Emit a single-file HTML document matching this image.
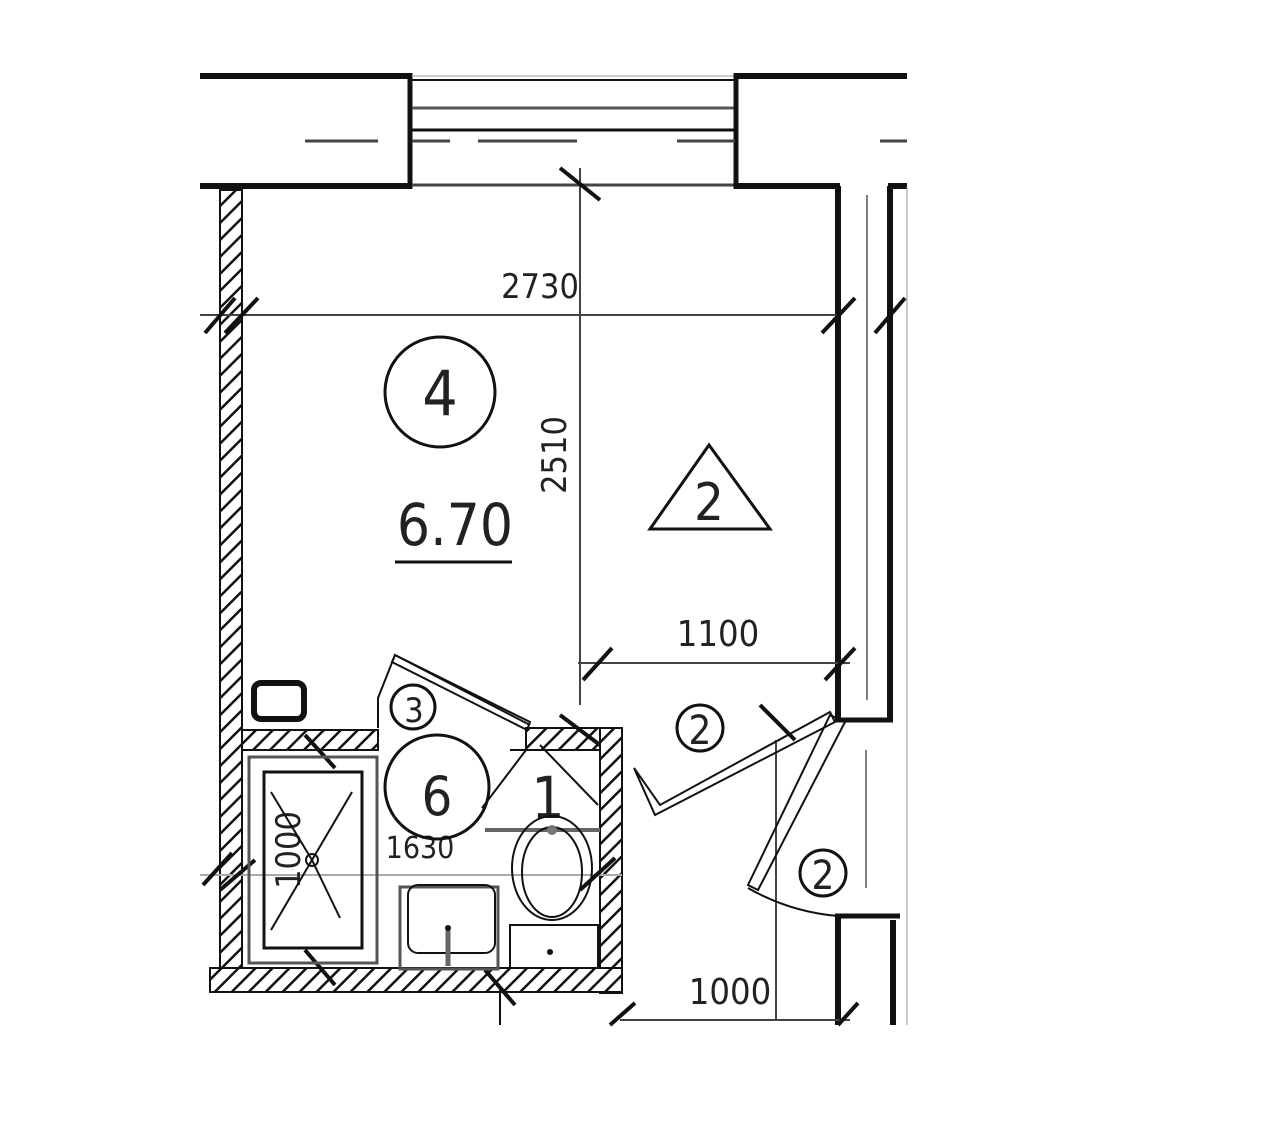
<!DOCTYPE html>
<html><head><meta charset="utf-8"><style>
html,body{margin:0;padding:0;background:#fff;}
svg{display:block;}
text{font-family:"DejaVu Sans Condensed","Liberation Sans",sans-serif;fill:#222;}
</style></head><body>
<svg width="1280" height="1122" viewBox="0 0 1280 1122" xmlns="http://www.w3.org/2000/svg">
<defs>
<pattern id="h" width="12" height="12" patternUnits="userSpaceOnUse" patternTransform="rotate(45)">
<rect width="12" height="12" fill="#fff"/><line x1="0" y1="0" x2="0" y2="12" stroke="#111" stroke-width="5"/>
</pattern>
</defs>
<g stroke="#111" fill="none">
<line x1="200" y1="76" x2="412" y2="76" stroke-width="6"/>
<line x1="200" y1="186" x2="412" y2="186" stroke-width="6"/>
<line x1="410" y1="73" x2="410" y2="189" stroke-width="5"/>
<line x1="412" y1="76" x2="735" y2="76" stroke-width="1.5" stroke="#bbb"/>
<line x1="412" y1="80" x2="735" y2="80" stroke-width="2"/>
<line x1="412" y1="108" x2="735" y2="108" stroke-width="3" stroke="#555"/>
<line x1="412" y1="130" x2="735" y2="130" stroke-width="3"/>
<line x1="412" y1="185" x2="735" y2="185" stroke-width="3" stroke="#444"/>
<line x1="736" y1="73" x2="736" y2="189" stroke-width="5"/>
<line x1="736" y1="76" x2="907" y2="76" stroke-width="6"/>
<line x1="736" y1="186" x2="840" y2="186" stroke-width="6"/>
<line x1="888" y1="186" x2="907" y2="186" stroke-width="6"/>
<g stroke-width="3" stroke="#444">
<line x1="305" y1="141" x2="378" y2="141"/><line x1="412" y1="141" x2="450" y2="141"/>
<line x1="478" y1="141" x2="577" y2="141"/><line x1="677" y1="141" x2="735" y2="141"/>
<line x1="880" y1="141" x2="907" y2="141"/>
</g>
<line x1="838" y1="186" x2="838" y2="720" stroke-width="6"/>
<line x1="890" y1="186" x2="890" y2="722" stroke-width="6"/>
<line x1="835" y1="720" x2="893" y2="720" stroke-width="5"/>
<line x1="867" y1="195" x2="867" y2="700" stroke-width="1.5" stroke="#555"/>
<line x1="907" y1="186" x2="907" y2="1025" stroke-width="1" stroke="#999"/>
<line x1="838" y1="916" x2="838" y2="1025" stroke-width="6"/>
<line x1="835" y1="916" x2="900" y2="916" stroke-width="5"/>
<line x1="893" y1="920" x2="893" y2="1025" stroke-width="6"/>
<line x1="866" y1="750" x2="866" y2="888" stroke-width="1.5" stroke="#555"/>
</g>
<g stroke="#111" stroke-width="2">
<rect x="220" y="190" width="22" height="795" fill="url(#h)"/>
<rect x="242" y="730" width="136" height="20" fill="url(#h)"/>
<rect x="526" y="728" width="75" height="22" fill="url(#h)"/>
<rect x="600" y="728" width="22" height="265" fill="url(#h)"/>
<rect x="210" y="968" width="412" height="24" fill="url(#h)"/>
</g>
<g stroke="#444" stroke-width="2" fill="none">
<line x1="200" y1="315" x2="840" y2="315"/>
<line x1="580" y1="168" x2="580" y2="705"/>
<line x1="578" y1="663" x2="850" y2="663"/>
<line x1="620" y1="1020" x2="850" y2="1020"/>
<line x1="776" y1="740" x2="776" y2="1020"/>
<line x1="500" y1="990" x2="500" y2="1025" stroke="#111"/>
<line x1="200" y1="875" x2="622" y2="875" stroke="#aaa"/>
</g>
<g stroke="#111" stroke-width="4">
<line x1="560" y1="168" x2="600" y2="200"/>
<line x1="205" y1="333" x2="235" y2="298"/><line x1="225" y1="333" x2="258" y2="298"/>
<line x1="822" y1="333" x2="855" y2="298"/><line x1="875" y1="333" x2="905" y2="298"/>
<line x1="583" y1="680" x2="612" y2="648"/><line x1="825" y1="680" x2="855" y2="648"/>
<line x1="560" y1="715" x2="600" y2="745"/>
<line x1="305" y1="735" x2="335" y2="768"/>
<line x1="203" y1="885" x2="232" y2="853"/><line x1="220" y1="890" x2="255" y2="860"/>
<line x1="580" y1="890" x2="615" y2="858"/>
<line x1="305" y1="950" x2="335" y2="985"/><line x1="485" y1="970" x2="515" y2="1005"/>
<line x1="610" y1="1025" x2="635" y2="1003"/><line x1="838" y1="1025" x2="858" y2="1003"/>
<line x1="760" y1="705" x2="795" y2="740"/>
</g>
<text x="540" y="298" font-size="34" text-anchor="middle">2730</text>
<text transform="translate(566,455) rotate(-90)" font-size="34" text-anchor="middle">2510</text>
<text x="718" y="646" font-size="36" text-anchor="middle">1100</text>
<text x="730" y="1004" font-size="36" text-anchor="middle">1000</text>
<text x="420" y="858" font-size="30" text-anchor="middle" fill="#666">1630</text>
<text transform="translate(300,850) rotate(-90)" font-size="34" text-anchor="middle">1000</text>
<g stroke="#111" stroke-width="3" fill="none">
<circle cx="440" cy="392" r="55"/>
<line x1="395" y1="562" x2="512" y2="562"/>
<polygon points="709,445 650,529 770,529"/>
<circle cx="413" cy="707" r="22"/>
<circle cx="437" cy="787" r="52"/>
<circle cx="700" cy="728" r="23"/>
<circle cx="823" cy="873" r="23"/>
<rect x="254" y="683" width="50" height="36" rx="7" stroke-width="6"/>
</g>
<text x="440" y="415" font-size="62" text-anchor="middle">4</text>
<text x="455" y="545" font-size="58" text-anchor="middle">6.70</text>
<text x="709" y="520" font-size="52" text-anchor="middle">2</text>
<text x="414" y="722" font-size="34" text-anchor="middle">3</text>
<text x="437" y="815" font-size="54" text-anchor="middle">6</text>
<text x="548" y="818" font-size="58" text-anchor="middle">1</text>
<text x="700" y="744" font-size="40" text-anchor="middle">2</text>
<text x="823" y="889" font-size="40" text-anchor="middle">2</text>
<g stroke="#111" stroke-width="2" fill="none">
<polyline points="378,728 378,698 395,655 530,725"/>
<polygon points="395,655 530,722 527,730 392,662"/>
<polygon points="634,768 655,815 835,722 830,712 660,805"/>
<polygon points="830,715 748,885 758,890 845,722"/>
<path d="M748 888 Q790 912 838 916"/>
<line x1="510" y1="750" x2="582" y2="750"/>
<line x1="526" y1="750" x2="482" y2="808"/>
<line x1="540" y1="745" x2="598" y2="805"/>
<line x1="485" y1="830" x2="600" y2="830" stroke-width="4" stroke="#666"/>
<rect x="249" y="757" width="128" height="206" stroke="#555" stroke-width="3"/>
<rect x="264" y="772" width="98" height="176" stroke-width="3"/>
<line x1="271" y1="792" x2="312" y2="860"/><line x1="352" y1="792" x2="312" y2="860"/>
<line x1="271" y1="930" x2="312" y2="860"/><line x1="340" y1="918" x2="312" y2="860"/>
<circle cx="312" cy="860" r="6"/>
<rect x="400" y="887" width="98" height="82" stroke="#555" stroke-width="3"/>
<rect x="408" y="885" width="87" height="68" rx="10" stroke-width="2"/>
<line x1="448" y1="930" x2="448" y2="966" stroke-width="5" stroke="#666"/>
<rect x="510" y="925" width="88" height="43" stroke-width="2"/>
<ellipse cx="552" cy="868" rx="40" ry="52" stroke-width="2"/>
<ellipse cx="552" cy="872" rx="30" ry="45" stroke-width="2"/>
</g>
<circle cx="448" cy="928" r="3" fill="#111"/>
<circle cx="550" cy="952" r="3" fill="#111"/>
<circle cx="552" cy="830" r="5" fill="#777"/>
</svg>
</body></html>
